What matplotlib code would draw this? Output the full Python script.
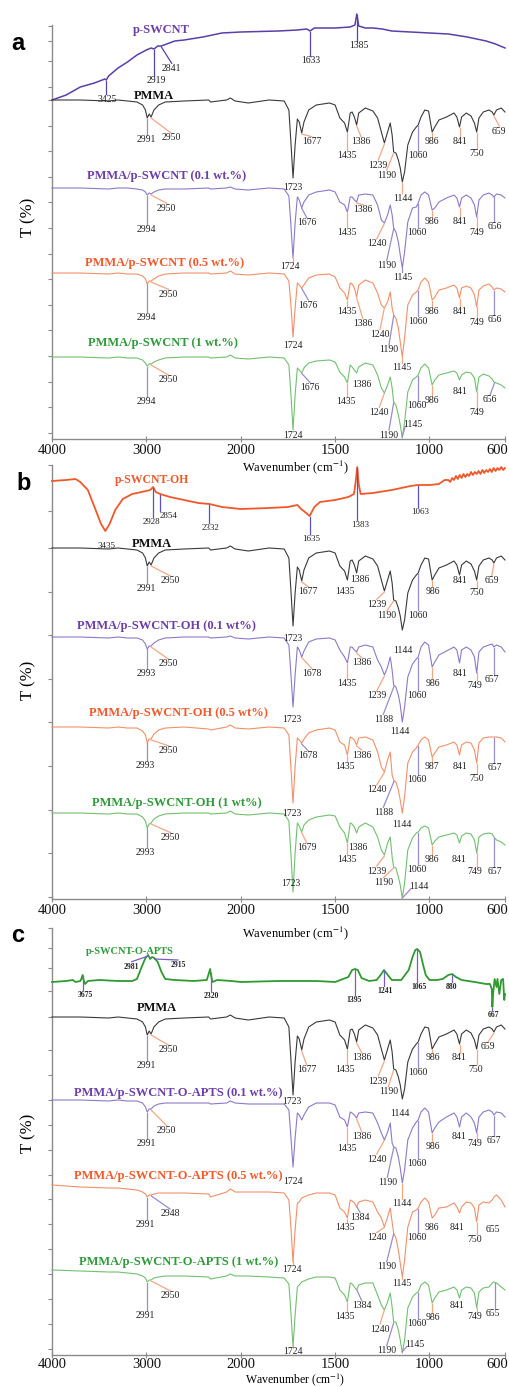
import numpy as np
import matplotlib
matplotlib.use('Agg')
import matplotlib.pyplot as plt
from matplotlib.ticker import NullLocator
from matplotlib.transforms import blended_transform_factory

plt.rcParams['font.family'] = 'serif'
plt.rcParams['font.serif'] = ['Liberation Serif', 'DejaVu Serif']
plt.rcParams['mathtext.fontset'] = 'stix'

# ---- spectra (T in arbitrary %, 100 = baseline at 4000 cm-1) ----
wn_poly = [4000, 3700, 3400, 3300, 3200, 3100, 3040, 3010, 2991, 2970, 2950, 2920, 2870, 2800, 2600,
           2340, 2320, 2150, 2110, 2060, 1960, 1850, 1770,
           1745, 1735, 1723, 1712, 1700, 1690, 1677, 1665, 1640, 1600,
           1530, 1500, 1475, 1450, 1435, 1420, 1410, 1398, 1386, 1375,
           1340, 1300, 1275, 1255, 1239, 1222, 1208, 1198, 1190, 1178,
           1165, 1155, 1144, 1132, 1115, 1090, 1070, 1060, 1045, 1025,
           1005, 986, 972, 950, 910, 870, 855, 841, 830, 805,
           780, 762, 750, 738, 715, 685, 668, 659, 645, 620, 600]

t_pmma = [100, 100, 99, 100, 99, 98, 95, 90, 82, 86, 83, 90, 95, 98, 99, 100, 98, 100, 102, 99, 97, 100, 99,
          90, 60, 22, 55, 81, 78, 67, 78, 90, 95,
          97, 95, 82, 77, 68, 87, 88, 83, 75, 87,
          92, 89, 82, 68, 57, 68, 77, 65, 48, 47,
          40, 32, 18, 28, 55, 68, 73, 75, 83, 90,
          89, 68, 73, 80, 83, 87, 83, 73, 83, 87,
          84, 77, 68, 82, 88, 90, 88, 85, 90, 92, 88]

t_a01 = [100, 100, 99, 100, 100, 99, 98, 96, 93, 95, 94, 96, 98, 99, 99, 100, 99, 100, 101, 99, 98, 100, 99,
         92, 65, 30, 65, 91, 88, 80, 86, 93, 96,
         98, 96, 86, 83, 76, 91, 91, 88, 86, 93,
         94, 93, 83, 68, 65, 73, 83, 73, 60, 56,
         46, 33, 20, 36, 66, 80, 81, 85, 93, 96,
         93, 78, 80, 86, 90, 93, 90, 81, 90, 93,
         90, 83, 71, 88, 93, 95, 93, 91, 94, 93, 90]

t_a05 = [100, 100, 99, 100, 99, 99, 97, 94, 89, 92, 92, 94, 97, 99, 100, 100, 99, 100, 102, 99, 98, 100, 99,
         92, 70, 36, 65, 90, 88, 85, 88, 95, 98,
         99, 96, 85, 80, 73, 90, 89, 85, 76, 88,
         93, 90, 80, 68, 65, 71, 81, 65, 58, 55,
         45, 31, 16, 35, 68, 78, 81, 83, 91, 95,
         91, 73, 76, 83, 85, 88, 85, 75, 85, 87,
         85, 78, 66, 83, 87, 89, 86, 83, 85, 84, 81]

t_a1 = [100, 100, 99, 100, 99, 99, 97, 94, 91, 93, 93, 95, 97, 99, 100, 100, 99, 100, 102, 99, 98, 100, 99,
        92, 65, 27, 62, 89, 87, 84, 89, 94, 96,
        97, 95, 85, 80, 74, 92, 90, 87, 84, 90,
        94, 92, 82, 69, 64, 72, 80, 69, 55, 52,
        42, 32, 19, 35, 65, 77, 80, 82, 89, 93,
        89, 72, 77, 82, 84, 86, 84, 77, 82, 85,
        84, 79, 65, 80, 83, 81, 78, 75, 74, 72, 69]

t_b01 = [100, 100, 99, 100, 99, 99, 97, 93, 88, 91, 91, 94, 97, 99, 100, 100, 99, 100, 101, 99, 98, 100, 99,
         92, 65, 30, 62, 90, 87, 80, 86, 95, 98,
         99, 97, 87, 80, 74, 90, 90, 87, 85, 90,
         92, 90, 77, 70, 62, 70, 80, 67, 52, 50,
         42, 32, 15, 30, 60, 73, 78, 80, 90, 95,
         92, 70, 75, 82, 86, 90, 87, 74, 87, 90,
         87, 80, 64, 85, 90, 92, 93, 90, 92, 90, 85]

t_b05 = [100, 100, 99, 100, 99, 99, 96, 92, 84, 88, 88, 93, 97, 99, 100, 98, 97, 100, 102, 99, 98, 100, 99,
         92, 62, 24, 60, 89, 87, 84, 88, 94, 97,
         99, 97, 85, 82, 72, 90, 89, 87, 82, 89,
         90, 87, 75, 60, 55, 67, 75, 52, 47, 45,
         37, 27, 14, 30, 64, 75, 79, 82, 87, 90,
         87, 70, 74, 80, 82, 85, 82, 72, 82, 85,
         84, 77, 64, 84, 89, 90, 90, 90, 90, 89, 85]

t_b1 = [100, 100, 99, 100, 99, 99, 96, 92, 85, 89, 90, 94, 97, 99, 100, 100, 99, 100, 102, 99, 98, 100, 99,
        92, 62, 21, 60, 90, 87, 81, 88, 93, 96,
        98, 97, 86, 80, 70, 90, 89, 86, 80, 86,
        90, 86, 76, 63, 58, 70, 76, 56, 46, 45,
        36, 28, 15, 30, 63, 75, 80, 81, 85, 87,
        85, 68, 72, 76, 78, 80, 78, 70, 77, 80,
        79, 73, 60, 76, 79, 80, 79, 76, 73, 71, 68]

t_c01 = [100, 100, 99, 100, 99, 99, 97, 93, 88, 91, 91, 94, 96, 97, 97, 97, 96, 97, 99, 97, 96, 96, 96,
         90, 65, 33, 62, 87, 85, 80, 85, 93, 97,
         97, 95, 83, 80, 73, 88, 87, 85, 82, 87,
         88, 87, 77, 67, 60, 68, 77, 57, 53, 52,
         43, 32, 17, 30, 60, 72, 78, 80, 88, 92,
         88, 67, 72, 78, 83, 87, 83, 73, 83, 87,
         83, 77, 67, 83, 88, 90, 88, 85, 88, 87, 83]

t_c05 = [100, 98, 97, 97, 96, 95, 93, 91, 88, 90, 90, 91, 92, 92, 92, 91, 88, 93, 96, 93, 93, 93, 92,
         85, 60, 23, 55, 82, 83, 87, 88, 90, 92,
         92, 90, 77, 73, 67, 85, 84, 82, 78, 83,
         85, 83, 73, 67, 58, 68, 77, 63, 52, 47,
         35, 22, 8, 25, 58, 73, 75, 77, 83, 87,
         83, 67, 70, 77, 78, 82, 78, 72, 78, 83,
         82, 77, 63, 80, 83, 82, 85, 88, 90, 85, 78]

t_c1 = [100, 99, 98, 98, 97, 96, 94, 92, 88, 90, 90, 92, 93, 94, 94, 93, 91, 94, 96, 94, 94, 93, 92,
        86, 60, 23, 55, 83, 85, 88, 89, 91, 93,
        93, 92, 80, 75, 68, 87, 86, 83, 80, 85,
        87, 87, 75, 65, 60, 68, 77, 63, 48, 48,
        40, 30, 17, 30, 62, 73, 77, 78, 85, 88,
        85, 67, 72, 78, 80, 83, 80, 72, 80, 83,
        82, 77, 62, 78, 82, 83, 87, 88, 87, 83, 80]

wn_swcnt = [4000, 3850, 3700, 3550, 3440, 3425, 3400, 3300, 3200, 3100,
            3000, 2950, 2919, 2880, 2841, 2700, 2600, 2400, 2200, 2000,
            1800, 1700, 1650, 1633, 1610, 1500, 1420, 1395, 1385, 1375,
            1340, 1300, 1250, 1200, 1100, 1000, 900, 800, 700, 650, 600]
t_swcnt = [100, 105, 113, 117, 121, 120, 124, 132, 138, 145,
           150, 152, 151, 154, 154, 159, 160, 163, 167, 168,
           169, 170, 171, 169, 172, 172, 173, 175, 186, 174,
           172, 172, 171, 169, 168, 167, 166, 163, 159, 156, 152]

wn_oh = [4000, 3850, 3750, 3700, 3620, 3550, 3480, 3435, 3390, 3330, 3250, 3150, 3050, 2960, 2928,
         2900, 2854, 2750, 2600, 2450, 2332, 2200, 2000, 1850, 1750, 1700, 1680, 1660, 1635, 1610,
         1580, 1500, 1430, 1400, 1390, 1383, 1375, 1365, 1300, 1200, 1100, 1063, 1000, 950, 920,
         900, 890, 880, 870, 860, 850, 840, 830, 820, 810, 800, 790, 780, 770, 760, 750,
         740, 730, 720, 710, 700, 690, 680, 670, 660, 650, 640, 630, 620, 610, 600]
t_oh = [100, 101, 102, 99, 91, 74, 57, 50, 57, 71, 82, 87, 89, 91, 94,
        89, 87, 84, 81, 78, 77, 74, 72, 73, 74, 76, 72, 69, 65, 74,
        79, 81, 84, 87, 101, 114, 97, 87, 88, 91, 95, 96, 96, 97, 101,
        101, 99, 103, 101, 105, 102, 106, 103, 107, 104, 107, 105, 109, 106, 109, 107,
        110, 107, 111, 108, 111, 109, 112, 109, 113, 110, 113, 111, 114, 111, 113]

wn_apts = [4000, 3850, 3780, 3750, 3700, 3690, 3675, 3665, 3650, 3620,
           3500, 3300, 3150, 3100, 3050, 3010, 2981, 2960, 2940, 2915,
           2880, 2840, 2800, 2700, 2500, 2360, 2340, 2325, 2315, 2300,
           2250, 2100, 2000, 1800, 1600, 1500, 1430, 1410, 1395, 1380,
           1360, 1320, 1280, 1255, 1241, 1225, 1200, 1150, 1110, 1090,
           1075, 1065, 1050, 1035, 1020, 1000, 960, 930, 900, 880,
           860, 830, 760, 700, 680, 670, 667, 663, 655, 645,
           640, 630, 620, 610, 604, 600]
t_apts = [100, 101, 102, 100, 101, 103, 107, 102, 98, 101,
          102, 101, 101, 103, 115, 124, 127, 123, 125, 124,
          120, 110, 103, 102, 101, 102, 108, 113, 107, 100,
          102, 101, 100, 101, 101, 100, 105, 112, 113, 112,
          104, 101, 102, 108, 112, 108, 102, 102, 112, 125,
          132, 133, 130, 118, 107, 102, 102, 103, 107, 108,
          105, 102, 100, 98, 98, 93, 75, 88, 103, 95,
          103, 88, 102, 103, 82, 88]

x_ticks = [4000, 3000, 2000, 1500, 1000, 600]

# ---- peak labels: (text, peak cm-1, label x px, label y px, line kind) ----
ann_swcnt = [('3425', 3425, 107, 99, 'fv'), ('2919', 2919, 156.7, 80.7, 'fv'), ('2841', 2841, 171.7, 68.3, 'fd'),
             ('1633', 1633, 311, 60.7, 'fv'), ('1385', 1385, 359.3, 45.7, 'fv')]
ann_pmma_a = [('2991', 2991, 146.7, 140, 'pv'), ('2950', 2950, 171, 138, 'od'), ('1723', 1723, 293.3, 187.3, 'n'),
              ('1677', 1677, 311.7, 141.7, 'od'), ('1435', 1435, 346.7, 155, 'ov'), ('1386', 1386, 361, 141.7, 'od'),
              ('1239', 1239, 378.3, 165, 'od'), ('1190', 1190, 386.7, 175, 'od'), ('1144', 1144, 403.3, 198.3, 'ov'),
              ('1060', 1060, 418, 156, 'pv'), ('986', 986, 431.7, 141.7, 'ov'), ('841', 841, 460, 141.7, 'ov'),
              ('750', 750, 476.7, 153.3, 'ov'), ('659', 659, 499.3, 131, 'od')]
ann_a01 = [('2994', 2994, 146.7, 230, 'pv'), ('2950', 2950, 166.7, 208.3, 'od'), ('1724', 1724, 290, 266.7, 'ov'),
           ('1676', 1676, 306.7, 222.7, 'pd'), ('1435', 1435, 346.7, 232.3, 'ov'), ('1386', 1386, 363.3, 210, 'od'),
           ('1240', 1240, 376.7, 244, 'od'), ('1190', 1190, 386.7, 265.7, 'pd'), ('1145', 1145, 403.3, 277.3, 'pv'),
           ('1060', 1060, 416.7, 232.3, 'pv'), ('986', 986, 431.7, 221, 'ov'), ('841', 841, 460, 221, 'ov'),
           ('749', 749, 476.7, 232.3, 'ov'), ('656', 656, 495, 226.7, 'pv')]
ann_a05 = [('2994', 2994, 146.7, 317.3, 'pv'), ('2950', 2950, 168.3, 294.3, 'od'), ('1724', 1724, 292.7, 345.7, 'n'),
           ('1676', 1676, 308.3, 305, 'pd'), ('1435', 1435, 346.7, 311.7, 'ov'), ('1386', 1386, 362.7, 323.3, 'od'),
           ('1240', 1240, 380, 334.3, 'od'), ('1190', 1190, 389, 350, 'pd'), ('1145', 1145, 401.7, 367.7, 'ov'),
           ('1060', 1060, 418.3, 321, 'pv'), ('986', 986, 431.7, 311.7, 'ov'), ('841', 841, 460, 311.7, 'ov'),
           ('749', 749, 476.7, 322.7, 'ov'), ('656', 656, 495, 320, 'pv')]
ann_a1 = [('2994', 2994, 146.7, 401.7, 'pv'), ('2950', 2950, 168.3, 380, 'od'), ('1724', 1724, 292.7, 435, 'n'),
          ('1676', 1676, 310, 387.3, 'pd'), ('1435', 1435, 346, 401.7, 'ov'), ('1386', 1386, 361.7, 384.3, 'n'),
          ('1240', 1240, 379.3, 412.3, 'od'), ('1190', 1190, 389, 435, 'pd'), ('1145', 1145, 413.3, 424.3, 'pd'),
          ('1060', 1060, 416.7, 406, 'pv'), ('986', 986, 432.3, 400.7, 'ov'), ('841', 841, 460, 391, 'n'),
          ('749', 749, 476.7, 412.7, 'ov'), ('656', 656, 490, 400, 'pd')]

ann_oh = [('3435', 3435, 106.7, 545.7, 'n'), ('2928', 2928, 151.7, 521.7, 'fv'), ('2854', 2854, 168.3, 516, 'fv'),
          ('2332', 2332, 210.7, 528.3, 'fv'), ('1635', 1635, 311, 539, 'fv'), ('1383', 1383, 360.7, 525, 'fv'),
          ('1063', 1063, 420.7, 511.7, 'fv')]
ann_pmma_b = [('2991', 2991, 146.7, 588.3, 'pv'), ('2950', 2950, 170, 580.7, 'od'), ('1723', 1723, 293.3, 638.3, 'n'),
              ('1677', 1677, 308.3, 591.7, 'od'), ('1435', 1435, 345, 591, 'n'), ('1386', 1386, 360, 580, 'n'),
              ('1239', 1239, 376.7, 604.3, 'od'), ('1190', 1190, 386.7, 616, 'od'), ('1144', 1144, 403.3, 650.7, 'n'),
              ('1060', 1060, 418.3, 615, 'pv'), ('986', 986, 433.3, 591.7, 'ov'), ('841', 841, 460, 580.7, 'n'),
              ('750', 750, 476.7, 592.7, 'ov'), ('659', 659, 491.7, 580.7, 'od')]
ann_b01 = [('2993', 2993, 146.7, 674, 'pv'), ('2950', 2950, 168.3, 664, 'od'), ('1723', 1723, 291.7, 720, 'n'),
           ('1678', 1678, 311.7, 673.3, 'od'), ('1435', 1435, 346.7, 684, 'ov'), ('1386', 1386, 361.7, 662.7, 'od'),
           ('1239', 1239, 376.7, 696, 'od'), ('1188', 1188, 383.3, 719.3, 'pd'), ('1144', 1144, 400, 731, 'n'),
           ('1060', 1060, 416.7, 695, 'pv'), ('986', 986, 433.3, 684, 'ov'), ('841', 841, 460, 673.3, 'n'),
           ('749', 749, 475, 685, 'ov'), ('657', 657, 491.7, 680, 'pv')]
ann_b05 = [('2993', 2993, 145.7, 766, 'pv'), ('2950', 2950, 168.3, 750.7, 'od'), ('1723', 1723, 291.7, 813.3, 'n'),
           ('1678', 1678, 308.3, 756, 'pd'), ('1435', 1435, 345, 766.7, 'ov'), ('1386', 1386, 361.7, 755, 'od'),
           ('1240', 1240, 376.7, 790, 'od'), ('1188', 1188, 383.3, 812.3, 'pd'), ('1144', 1144, 401.7, 824.3, 'n'),
           ('1060', 1060, 416.7, 780, 'pv'), ('987', 987, 431.7, 766.7, 'ov'), ('841', 841, 460, 766.7, 'n'),
           ('750', 750, 476.7, 778.3, 'ov'), ('657', 657, 495, 767.7, 'pv')]
ann_b1 = [('2993', 2993, 145.7, 852.3, 'pv'), ('2950', 2950, 170.7, 837.7, 'od'), ('1723', 1723, 291, 883.3, 'n'),
          ('1679', 1679, 306.7, 847.7, 'od'), ('1435', 1435, 346.7, 859, 'ov'), ('1386', 1386, 358.3, 847.7, 'n'),
          ('1239', 1239, 376.7, 871, 'od'), ('1190', 1190, 383.3, 882.7, 'od'), ('1144', 1144, 419, 886.7, 'pd'),
          ('1060', 1060, 416.7, 869.3, 'pv'), ('986', 986, 431.7, 860, 'ov'), ('841', 841, 459.3, 860, 'n'),
          ('749', 749, 475, 871.7, 'ov'), ('657', 657, 495, 871.7, 'pv')]

ann_apts = [('3675', 3675, 85, 995, 'fv'), ('2981', 2981, 131.7, 966.7, 'fd'), ('2915', 2915, 178, 965, 'fd'),
            ('2320', 2320, 211.7, 996, 'fv'), ('1395', 1395, 354, 1000, 'fv'), ('1241', 1241, 385, 990.7, 'fv'),
            ('1065', 1065, 419, 986.7, 'fv'), ('880', 880, 451.7, 987.3, 'fv'), ('667', 667, 493.3, 1015, 'fv')]
ann_pmma_c = [('2991', 2991, 146.7, 1066, 'pv'), ('2950', 2950, 168.3, 1050, 'od'), ('1723', 1723, 291.7, 1101.7, 'n'),
              ('1677', 1677, 306.7, 1070, 'od'), ('1435', 1435, 345, 1070, 'ov'), ('1386', 1386, 361.7, 1057.7, 'od'),
              ('1239', 1239, 378.3, 1081, 'od'), ('1190', 1190, 388.3, 1091.7, 'od'), ('1144', 1144, 400, 1114, 'n'),
              ('1060', 1060, 418.3, 1072.7, 'pv'), ('986', 986, 433.3, 1057.7, 'ov'), ('841', 841, 459.3, 1057.7, 'ov'),
              ('750', 750, 476, 1069, 'ov'), ('659', 659, 488.3, 1046.7, 'od')]
ann_c01 = [('2991', 2991, 146.7, 1144, 'pv'), ('2950', 2950, 166.7, 1130.7, 'od'), ('1724', 1724, 293.3, 1181.7, 'n'),
           ('1435', 1435, 346.7, 1148.3, 'ov'), ('1386', 1386, 361.7, 1136.7, 'od'), ('1240', 1240, 376.7, 1159, 'od'),
           ('1190', 1190, 387.3, 1182.3, 'pd'), ('1144', 1144, 401.7, 1204, 'ov'), ('1060', 1060, 416.7, 1163.3, 'pv'),
           ('986', 986, 433.3, 1146.7, 'ov'), ('841', 841, 459.3, 1136.7, 'n'), ('749', 749, 475, 1144, 'ov'),
           ('657', 657, 494, 1140.7, 'pv')]
ann_c05 = [('2991', 2991, 145.7, 1224.3, 'pv'), ('2948', 2948, 170, 1214, 'pd'), ('1724', 1724, 291.7, 1270, 'ov'),
           ('1435', 1435, 345, 1227.3, 'ov'), ('1384', 1384, 360, 1217.3, 'pd'), ('1240', 1240, 376.7, 1237.7, 'od'),
           ('1190', 1190, 386.7, 1266.7, 'pd'), ('1145', 1145, 401.7, 1284, 'ov'), ('1060', 1060, 416.7, 1237.7, 'pv'),
           ('986', 986, 431.7, 1227.3, 'n'), ('841', 841, 456.7, 1227.3, 'n'), ('750', 750, 475, 1239, 'ov'),
           ('655', 655, 492.7, 1230, 'n')]
ann_c1 = [('2991', 2991, 145.7, 1316, 'pv'), ('2950', 2950, 170, 1295.7, 'od'), ('1724', 1724, 292.7, 1351.7, 'ov'),
          ('1435', 1435, 345, 1316.7, 'ov'), ('1384', 1384, 361.7, 1305.7, 'pd'), ('1240', 1240, 380, 1329, 'od'),
          ('1190', 1190, 386.7, 1350.7, 'pd'), ('1145', 1145, 415, 1344.3, 'pd'), ('1060', 1060, 416.7, 1323.3, 'pv'),
          ('986', 986, 433.3, 1317.7, 'ov'), ('841', 841, 456.7, 1305.7, 'n'), ('749', 749, 475, 1316.7, 'ov'),
          ('655', 655, 493.3, 1313.3, 'pv')]

# ---- colours ----
C_PMMA = '#3a3a3a'
C_01, C_01_TXT = '#8d79c9', '#6b3fa8'
C_05, C_05_TXT = '#f39068', '#f2592a'
C_1, C_1_TXT = '#72c070', '#2e9a3a'
LINE_O, LINE_P = '#f5a683', '#9a8cc8'

# ---- layout (figure pixels) ----
W, H = 510, 1387
X0, X1 = 52, 505


def fwd(w):
    w = np.asarray(w, dtype=float)
    return np.where(w <= 2000, w, 2000 + (w - 2000) / 2)


def inv(v):
    v = np.asarray(v, dtype=float)
    return np.where(v <= 2000, v, 2000 + (v - 2000) * 2)


def xf(px):
    return (px - X0) / (X1 - X0)


def wn_frac(w):
    return float((fwd(4000) - fwd(w)) / (fwd(4000) - fwd(600)))


def make_axes(top, bot, yticks, label_y):
    ax = fig.add_axes([X0 / W, 1 - bot / H, (X1 - X0) / W, (bot - top) / H])
    ax.set_xscale('function', functions=(fwd, inv))
    ax.set_xlim(4000, 600)
    ax.set_ylim(-bot, -top)
    ax.set_xticks(x_ticks)
    ax.set_xticklabels([])
    ax.xaxis.set_minor_locator(NullLocator())
    ax.set_yticks([-p for p in yticks])
    ax.tick_params(axis='y', direction='out', length=3, color='#8a8a8a', labelleft=False)
    ax.tick_params(axis='x', direction='inout', length=5, color='#8a8a8a')
    for s in ['top', 'right']:
        ax.spines[s].set_visible(False)
    for s in ['left', 'bottom']:
        ax.spines[s].set_color('#8a8a8a')
        ax.spines[s].set_linewidth(1.0)
    tr = blended_transform_factory(ax.transAxes, ax.transData)
    # tick labels drawn by hand so that "600" stays inside the picture
    for t in x_ticks:
        px = min(X0 + (X1 - X0) * wn_frac(t), 497)
        ax.text(xf(px), -label_y, str(t), transform=tr, ha='center', va='center',
                fontsize=10.5, color='#111111', clip_on=False)
    return ax, tr


def draw(ax, tr, wn, t, base, color, lw, ann, stem_col, size=7, weight='normal'):
    wn = np.asarray(wn, dtype=float)
    y = np.asarray(t, dtype=float) - 100 - base
    ax.plot(wn, y, color=color, lw=lw, zorder=3, clip_on=False)
    for text, pk, tx, ty, kind in ann:
        yc = float(np.interp(pk, wn[::-1], y[::-1]))
        ax.text(xf(tx), -ty, text, transform=tr, ha='center', va='center',
                fontsize=size, color='#222222', fontweight=weight, zorder=5)
        if kind == 'n':
            continue
        col = {'o': LINE_O, 'p': LINE_P, 'f': stem_col}[kind[0]]
        px = wn_frac(pk)
        if kind[1] == 'v':
            xs, ys = [px, px], [yc - 1, -(ty - 5)]
        elif ty > -yc:
            xs, ys = [px, xf(tx)], [yc - 1, -(ty - 5)]
        else:
            xs, ys = [px, xf(tx - 8)], [yc, -(ty + 2)]
        ax.plot(xs, ys, color=col, lw=0.9, transform=tr, zorder=4, clip_on=False)


def curve_label(ax, tr, text, px, py, color, size=9):
    ax.text(xf(px), -py, text, transform=tr, ha='center', va='center', fontsize=size,
            fontweight='bold', color=color, zorder=6)


def fig_text(px, py, text, **kw):
    fig.text(px / W, 1 - py / H, text, ha='center', va='center', **kw)


fig = plt.figure(figsize=(W / 100, H / 100), dpi=100)

# ---- panel a ----
ax, tr = make_axes(25, 439, [26, 41, 61, 87] + list(np.arange(100, 439, 25.6)), 451)
draw(ax, tr, wn_swcnt, t_swcnt, 100, '#5b3fa8', 1.1, ann_swcnt, '#5b3fa8')
draw(ax, tr, wn_poly, t_pmma, 100, C_PMMA, 0.8, ann_pmma_a, None)
draw(ax, tr, wn_poly, t_a01, 188, C_01, 0.8, ann_a01, None)
draw(ax, tr, wn_poly, t_a05, 273, C_05, 0.8, ann_a05, None)
draw(ax, tr, wn_poly, t_a1, 357, C_1, 0.8, ann_a1, None)
curve_label(ax, tr, 'p-SWCNT', 161.7, 30, '#6b3fa8')
curve_label(ax, tr, 'PMMA', 154, 95.7, '#111111')
curve_label(ax, tr, 'PMMA/p-SWCNT (0.1 wt.%)', 166.7, 175.7, C_01_TXT)
curve_label(ax, tr, 'PMMA/p-SWCNT (0.5 wt.%)', 165, 262.7, C_05_TXT)
curve_label(ax, tr, 'PMMA/p-SWCNT (1 wt.%)', 163.3, 343.3, C_1_TXT)

# ---- panel b ----
ax, tr = make_axes(465, 899, [465, 511] + list(np.arange(548, 899, 43.6)), 911)
draw(ax, tr, wn_oh, t_oh, 481, '#f0582a', 1.3, ann_oh, '#5a50c8', size=6.5)
draw(ax, tr, wn_poly, t_pmma, 548, C_PMMA, 0.8, ann_pmma_b, None)
draw(ax, tr, wn_poly, t_b01, 637, C_01, 0.8, ann_b01, None)
draw(ax, tr, wn_poly, t_b05, 727, C_05, 0.8, ann_b05, None)
draw(ax, tr, wn_poly, t_b1, 813, C_1, 0.8, ann_b1, None)
curve_label(ax, tr, 'p-SWCNT-OH', 151.7, 480, '#f0582a', size=8.5)
curve_label(ax, tr, 'PMMA', 151.7, 544, '#111111')
curve_label(ax, tr, 'PMMA/p-SWCNT-OH (0.1 wt%)', 166.7, 625.7, C_01_TXT)
curve_label(ax, tr, 'PMMA/p-SWCNT-OH (0.5 wt%)', 178.3, 713.3, C_05_TXT)
curve_label(ax, tr, 'PMMA/p-SWCNT-OH (1 wt%)', 176.7, 803.3, C_1_TXT)

# ---- panel c ----
ax, tr = make_axes(928, 1355, [928, 948, 968, 991, 1017] + list(np.arange(1050, 1355, 24.9)), 1364)
draw(ax, tr, wn_apts, t_apts, 982, '#2f9a2f', 1.3, ann_apts, '#7a5cc8', size=5.5, weight='bold')
draw(ax, tr, wn_poly, t_pmma, 1017, C_PMMA, 0.8, ann_pmma_c, None)
draw(ax, tr, wn_poly, t_c01, 1100, C_01, 0.8, ann_c01, None)
draw(ax, tr, wn_poly, t_c05, 1185, C_05, 0.8, ann_c05, None)
draw(ax, tr, wn_poly, t_c1, 1270, C_1, 0.8, ann_c1, None)
curve_label(ax, tr, 'p-SWCNT-O-APTS', 130, 952, C_1_TXT, size=7.5)
curve_label(ax, tr, 'PMMA', 156.7, 1008.3, '#111111')
curve_label(ax, tr, 'PMMA/p-SWCNT-O-APTS (0.1 wt.%)', 178.3, 1092.7, C_01_TXT)
curve_label(ax, tr, 'PMMA/p-SWCNT-O-APTS (0.5 wt.%)', 178.3, 1175.7, C_05_TXT)
curve_label(ax, tr, 'PMMA/p-SWCNT-O-APTS (1 wt.%)', 178.3, 1261.7, C_1_TXT)

# ---- shared texts ----
for px, py, letter in [(18, 43, 'a'), (24, 483, 'b'), (18, 935, 'c')]:
    fig_text(px, py, letter, fontsize=17, fontweight='bold', family='Liberation Sans')
for py in [217, 680, 1133]:
    fig_text(28, py, 'T (%)', fontsize=12, rotation=90)
for py, fs in [(467, 9), (933, 9), (1379.5, 8.5)]:
    fig_text(295, py, 'Wavenumber (cm$^{-1}$)', fontsize=fs)

fig.savefig('out.png', dpi=100)
